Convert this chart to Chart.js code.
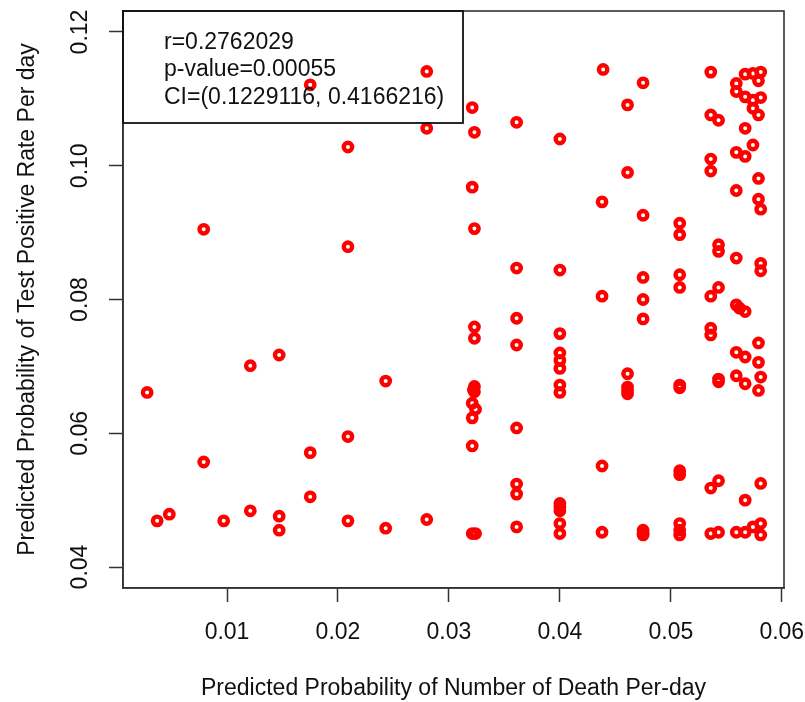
<!DOCTYPE html>
<html>
<head>
<meta charset="utf-8">
<title>Death vs Test Positive Rate</title>
<script src="https://cdn.jsdelivr.net/npm/chart.js@4"></script>
<style>
  html, body { margin: 0; padding: 0; background: #fff; }
  #wrap { width: 805px; height: 702px; }
</style>
</head>
<body>
<div id="wrap"><canvas id="scatter" width="805" height="702"></canvas></div>
<script>
// predicted probability of number of death per day
const deathProb = [
  0.0028, 0.0037, 0.0048, 0.0079, 0.0079, 0.0097, 0.0121, 0.0121, 0.0147, 0.0147,
  0.0147, 0.0175, 0.0175, 0.0175, 0.0209, 0.0209, 0.0209, 0.0209, 0.0243, 0.0243,
  0.0280, 0.0280, 0.0280,
  0.0321, 0.0323, 0.0321, 0.0323, 0.0323, 0.0323, 0.0323, 0.0323, 0.0321, 0.0324,
  0.0321, 0.0321, 0.0321, 0.0324, 0.0322,
  0.0361, 0.0361, 0.0361, 0.0361, 0.0361, 0.0361, 0.0361, 0.0361,
  0.0400, 0.0400, 0.0400, 0.0400, 0.0400, 0.0400, 0.0400, 0.0400, 0.0400, 0.0400,
  0.0400, 0.0400, 0.0400,
  0.0439, 0.0438, 0.0438, 0.0438, 0.0438,
  0.0461, 0.0461, 0.0461, 0.0461, 0.0461, 0.0461,
  0.0475, 0.0475, 0.0475, 0.0475, 0.0475, 0.0475, 0.0475, 0.0475,
  0.0508, 0.0508, 0.0508, 0.0508, 0.0508, 0.0508, 0.0508, 0.0508, 0.0508, 0.0508,
  0.0508,
  0.0536, 0.0536, 0.0536, 0.0536, 0.0536, 0.0536, 0.0536, 0.0536, 0.0536,
  0.0543, 0.0543, 0.0543, 0.0543, 0.0543, 0.0543, 0.0543, 0.0543,
  0.0559, 0.0559, 0.0559, 0.0559, 0.0559, 0.0559, 0.0559, 0.0559, 0.0559,
  0.0562,
  0.0567, 0.0567, 0.0567, 0.0567, 0.0567, 0.0567, 0.0567, 0.0567, 0.0567,
  0.0574, 0.0574, 0.0574, 0.0574, 0.0574,
  0.0579, 0.0579, 0.0579, 0.0579, 0.0579, 0.0579, 0.0579,
  0.0581, 0.0581, 0.0581, 0.0581, 0.0581, 0.0581, 0.0581, 0.0581, 0.0581
];

// predicted probability of test positive rate per day
const positiveRate = [
  0.0661, 0.0469, 0.0479, 0.0905, 0.0557, 0.0469, 0.0701, 0.0484, 0.0717, 0.0476,
  0.0455, 0.1121, 0.0571, 0.0505, 0.1028, 0.0879, 0.0595, 0.0469, 0.0678, 0.0458,
  0.1141, 0.1056, 0.0471,
  0.1087, 0.1050, 0.0968, 0.0906, 0.0759, 0.0742, 0.0670, 0.0662, 0.0645, 0.0636,
  0.0623, 0.0581, 0.0450, 0.0450, 0.0665,
  0.1065, 0.0847, 0.0772, 0.0732, 0.0608, 0.0524, 0.0509, 0.0460,
  0.1040, 0.0844, 0.0749, 0.0720, 0.0709, 0.0697, 0.0672, 0.0661, 0.0495, 0.0490,
  0.0484, 0.0465, 0.0450,
  0.1144, 0.0946, 0.0805, 0.0551, 0.0452,
  0.1091, 0.0990, 0.0689, 0.0669, 0.0664, 0.0659,
  0.1124, 0.0926, 0.0833, 0.0800, 0.0771, 0.0455, 0.0451, 0.0448,
  0.0914, 0.0897, 0.0837, 0.0818, 0.0672, 0.0668, 0.0544, 0.0538, 0.0465, 0.0455,
  0.0448,
  0.1140, 0.1076, 0.1010, 0.0992, 0.0805, 0.0757, 0.0747, 0.0518, 0.0450,
  0.1068, 0.0882, 0.0872, 0.0818, 0.0681, 0.0677, 0.0529, 0.0452,
  0.1123, 0.1111, 0.1020, 0.0963, 0.0862, 0.0792, 0.0721, 0.0686, 0.0452,
  0.0787,
  0.1137, 0.1103, 0.1056, 0.1014, 0.0782, 0.0714, 0.0674, 0.0500, 0.0452,
  0.1138, 0.1098, 0.1086, 0.1031, 0.0460,
  0.1127, 0.1076, 0.0981, 0.0950, 0.0735, 0.0706, 0.0664,
  0.1140, 0.1102, 0.0935, 0.0854, 0.0843, 0.0684, 0.0525, 0.0465, 0.0448
];

const xTicks = [0.01, 0.02, 0.03, 0.04, 0.05, 0.06];
const yTicks = [0.04, 0.06, 0.08, 0.10, 0.12];

const statLines = [
  'r=0.2762029',
  'p-value=0.00055',
  'CI=(0.1229116, 0.4166216)'
];

const FONT = '"Liberation Sans", Arial, sans-serif';
const TEXT = '#111';

const points = deathProb.map((x, i) => ({ x: x, y: positiveRate[i] }));

// frame, rotated y labels and the correlation box
const extras = {
  id: 'extras',
  afterDatasetsDraw(chart) {
    const { ctx, chartArea: a, scales } = chart;
    ctx.save();

    // plot frame
    ctx.strokeStyle = '#333';
    ctx.lineWidth = 1.6;
    ctx.strokeRect(a.left, a.top, a.right - a.left, a.bottom - a.top);

    // y tick labels, reading bottom to top
    ctx.fillStyle = TEXT;
    ctx.font = '23px ' + FONT;
    ctx.textAlign = 'center';
    ctx.textBaseline = 'middle';
    yTicks.forEach(v => {
      const y = scales.y.getPixelForValue(v);
      ctx.save();
      ctx.translate(81, y);
      ctx.rotate(-Math.PI / 2);
      ctx.fillText(v.toFixed(2), 0, 0);
      ctx.restore();
    });

    // stats box in the top-left corner
    ctx.strokeStyle = '#111';
    ctx.lineWidth = 1.8;
    ctx.strokeRect(a.left, a.top, 340, 112);
    ctx.textAlign = 'left';
    statLines.forEach((t, i) => {
      ctx.fillText(t, a.left + 41, a.top + 31.5 + i * 27.5);
    });

    ctx.restore();
  }
};

new Chart(document.getElementById('scatter'), {
  type: 'scatter',
  data: {
    datasets: [{
      data: points,
      pointStyle: 'circle',
      pointRadius: 4.2,
      pointBorderWidth: 4.4,
      pointBorderColor: '#ff0000',
      pointBackgroundColor: 'rgba(0,0,0,0)',
      pointHoverRadius: 4.2
    }]
  },
  options: {
    responsive: false,
    animation: false,
    devicePixelRatio: 1,
    layout: { padding: { top: 11, right: 21, bottom: 0, left: 0 } },
    plugins: {
      legend: { display: false },
      tooltip: { enabled: false }
    },
    scales: {
      x: {
        type: 'linear',
        min: 0.000625,
        max: 0.0602,
        afterBuildTicks: s => { s.ticks = xTicks.map(v => ({ value: v })); },
        afterFit: s => {
          s.height = 114;
          s.paddingLeft = 0;
          s.paddingRight = 0;
        },
        grid: {
          drawOnChartArea: false,
          drawTicks: true,
          tickLength: 14,
          tickWidth: 1.5,
          tickColor: '#333'
        },
        border: { display: true, color: '#333', width: 1.6 },
        ticks: {
          color: TEXT,
          font: { family: FONT, size: 23 },
          padding: 17,
          maxRotation: 0,
          callback: v => Number(v).toFixed(2)
        },
        title: {
          display: true,
          text: 'Predicted Probability of Number of Death Per-day',
          color: TEXT,
          font: { family: FONT, size: 23 },
          padding: { top: 0, bottom: 0 }
        }
      },
      y: {
        type: 'linear',
        min: 0.03686,
        max: 0.12314,
        afterBuildTicks: s => { s.ticks = yTicks.map(v => ({ value: v })); },
        afterFit: s => {
          s.width = 123;
          s.paddingTop = 0;
          s.paddingBottom = 0;
        },
        grid: {
          drawOnChartArea: false,
          drawTicks: true,
          tickLength: 14,
          tickWidth: 1.5,
          tickColor: '#333'
        },
        border: { display: true, color: '#333', width: 1.6 },
        ticks: { display: false },
        title: {
          display: true,
          text: 'Predicted Probability of Test Positive Rate Per day',
          color: TEXT,
          font: { family: FONT, size: 23 },
          padding: { top: 14, bottom: 0 }
        }
      }
    }
  },
  plugins: [extras]
});
</script>
</body>
</html>
